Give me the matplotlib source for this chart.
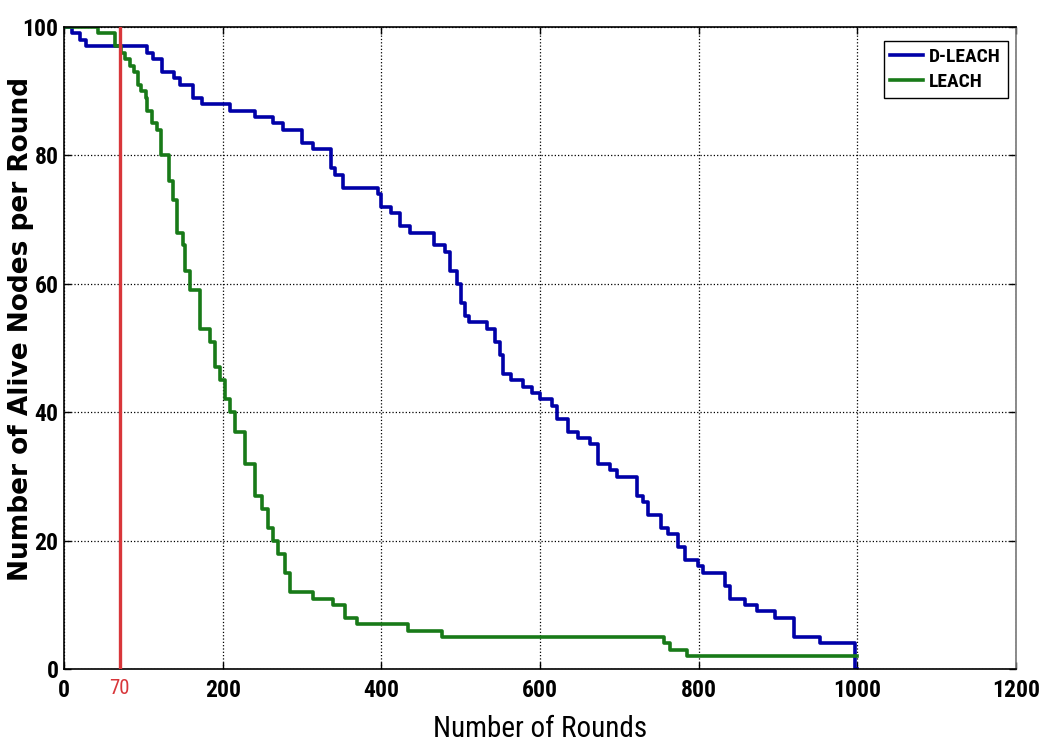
import matplotlib
matplotlib.use("Agg")
from matplotlib import pyplot as plt
from matplotlib import font_manager

# D-LEACH: (round, alive nodes) where each step starts
dleach_x = [0, 10, 20, 28, 104, 112, 123, 138, 146, 162, 174, 209, 241, 264, 276,
            300, 314, 336, 342, 352, 396, 400, 412, 424, 436, 466, 480, 487, 495,
            500, 506, 510, 533, 543, 549, 553, 563, 578, 590, 600, 615, 621, 635,
            648, 663, 673, 688, 697, 722, 730, 736, 753, 761, 774, 783, 799, 806,
            833, 840, 858, 873, 896, 920, 953, 997, 1000]
dleach_y = [100, 99, 98, 97, 96, 95, 93, 92, 91, 89, 88, 87, 86, 85, 84,
            82, 81, 78, 77, 75, 74, 72, 71, 69, 68, 66, 65, 62, 60,
            57, 55, 54, 53, 51, 49, 46, 45, 44, 43, 42, 41, 39, 37,
            36, 35, 32, 31, 30, 27, 26, 24, 22, 21, 19, 17, 16, 15,
            13, 11, 10, 9, 8, 5, 4, 0, 0]

# LEACH
leach_x = [0, 43, 64, 72, 77, 83, 88, 93, 97, 103, 105, 111, 117, 122, 132, 137,
           142, 150, 152, 159, 171, 184, 190, 196, 203, 209, 215, 228, 241, 249,
           257, 263, 270, 279, 285, 314, 339, 354, 369, 434, 476, 757, 764, 785,
           1000]
leach_y = [100, 99, 97, 96, 95, 94, 93, 91, 90, 89, 87, 85, 84, 80, 76, 73,
           68, 66, 62, 59, 53, 51, 47, 45, 42, 40, 37, 32, 27, 25,
           22, 20, 18, 15, 12, 11, 10, 8, 7, 6, 5, 4, 3, 2,
           2]

marker_round = 70
x_ticks = [0, 70, 200, 400, 600, 800, 1000, 1200]
y_ticks = [0, 20, 40, 60, 80, 100]

# pick a condensed face that also has a bold weight
fl = font_manager.fontManager.ttflist
pref = ['Liberation Sans Narrow', 'Roboto Condensed', 'Open Sans Condensed',
        'Noto Sans Condensed', 'DejaVu Sans Condensed']
found = [n for n in pref if any(f.name == n and f.weight in (600, 700, 'bold', 'semibold') for f in fl)]
if not found:
    found = sorted({f.name for f in fl if ('Narrow' in f.name or 'Condensed' in f.name)
                    and f.weight in (700, 'bold')})
narrow = found[:1] + ['Liberation Sans', 'DejaVu Sans']

fig = plt.figure(figsize=(10.43, 7.51), dpi=100)
ax = fig.add_axes([0.0614, 0.109, 0.9126, 0.855])

ax.plot(dleach_x, dleach_y, drawstyle='steps-post', color='#0000a8', lw=2.6, label='D-LEACH')
ax.plot(leach_x, leach_y, drawstyle='steps-post', color='#187a18', lw=2.6, label='LEACH')
ax.axvline(marker_round, color='#d8363a', lw=2.4, zorder=5)

ax.set_xlim(0, 1200)
ax.set_ylim(0, 100)
ax.set_xticks(x_ticks)
ax.set_yticks(y_ticks)
ax.set_xticklabels([str(t) for t in x_ticks], family=narrow, fontsize=17, fontweight='bold')
ax.set_yticklabels([str(t) for t in y_ticks], family=narrow, fontsize=17, fontweight='bold')
lab70 = ax.get_xticklabels()[1]
lab70.set_color('#d8363a')
lab70.set_fontweight('normal')
lab70.set_fontsize(15)

ax.grid(True, linestyle=':', color='black', lw=0.9)
ax.tick_params(direction='in', top=True, right=True, length=5, width=1, pad=7)
ax.tick_params(axis='y', pad=4)
for s in ax.spines.values():
    s.set_linewidth(1.2)
ax.spines['right'].set_color('#777777')

ax.set_xlabel('Number of Rounds', family=narrow, fontsize=21)
ax.xaxis.set_label_coords(0.5, -0.072)
ax.set_ylabel('Number of Alive Nodes per Round', family='DejaVu Sans', fontsize=19,
              fontweight='bold')
ax.yaxis.set_label_coords(-0.032, 0.53)

leg = ax.legend(loc='upper right', bbox_to_anchor=(0.9916, 0.978), borderaxespad=0,
                fancybox=False, edgecolor='black', framealpha=1, handlelength=1.7,
                handletextpad=0.3, borderpad=0.35, labelspacing=0.35,
                prop={'family': narrow, 'size': 14, 'weight': 'bold'})
leg.get_frame().set_linewidth(1.0)

fig.savefig('out.png', dpi=100)
